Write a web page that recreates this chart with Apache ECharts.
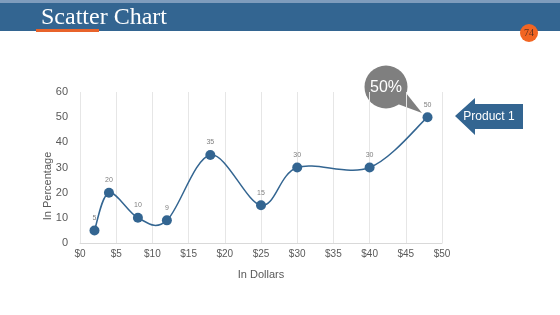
<!DOCTYPE html>
<html>
<head>
<meta charset="utf-8">
<script src="https://cdn.jsdelivr.net/npm/echarts@6/dist/echarts.min.js"></script>
<style>
  html, body { margin: 0; padding: 0; background: #fff; }
  #main { width: 560px; height: 315px; }
</style>
</head>
<body>
<div id="main"></div>
<script>
// values
var dollars = [2, 4, 8, 12, 18, 25, 30, 40, 48];
var percents = [5, 20, 10, 9, 35, 15, 30, 30, 50];
var xTicks = [0, 5, 10, 15, 20, 25, 30, 35, 40, 45, 50];
var yTicks = [0, 10, 20, 30, 40, 50, 60];

var myChart = echarts.init(document.getElementById('main'));

var points = [];
for (var i = 0; i < dollars.length; i++) {
  points.push([dollars[i], percents[i]]);
}

var blue = '#336591';

// Excel-like smoothed segment (cardinal spline), drawn through the axes
function renderSegment(params, api) {
  var i = params.dataIndex;
  if (i >= points.length - 1) return null;
  var p0 = api.coord(points[Math.max(i - 1, 0)]);
  var p1 = api.coord(points[i]);
  var p2 = api.coord(points[i + 1]);
  var p3 = api.coord(points[Math.min(i + 2, points.length - 1)]);
  return {
    type: 'bezierCurve',
    shape: {
      x1: p1[0], y1: p1[1],
      x2: p2[0], y2: p2[1],
      cpx1: p1[0] + (p2[0] - p0[0]) / 6,
      cpy1: p1[1] + (p2[1] - p0[1]) / 6,
      cpx2: p2[0] - (p3[0] - p1[0]) / 6,
      cpy2: p2[1] - (p3[1] - p1[1]) / 6
    },
    style: {fill: null, stroke: blue, lineWidth: 1.5}
  };
}

var option = {
  backgroundColor: '#fff',
  animation: false,
  grid: {
    left: 80,
    right: 118,
    top: 92,
    bottom: 72
  },
  xAxis: {
    type: 'value',
    min: xTicks[0],
    max: xTicks[xTicks.length - 1],
    interval: 5,
    name: 'In Dollars',
    nameLocation: 'middle',
    nameGap: 26,
    nameMoveOverlap: false,
    nameTextStyle: {color: '#595959', fontSize: 11, fontFamily: 'Arial, Liberation Sans'},
    axisLine: {lineStyle: {color: '#d9d9d9'}},
    axisTick: {show: false},
    axisLabel: {
      color: '#595959',
      fontSize: 10,
      fontFamily: 'Arial, Liberation Sans',
      margin: 6,
      formatter: function (v) { return '$' + v; }
    },
    splitLine: {show: true, lineStyle: {color: '#e6e6e6'}}
  },
  yAxis: {
    type: 'value',
    min: yTicks[0],
    max: yTicks[yTicks.length - 1],
    interval: 10,
    name: 'In Percentage',
    nameLocation: 'middle',
    nameGap: 27,
    nameMoveOverlap: false,
    nameTextStyle: {color: '#595959', fontSize: 11, fontFamily: 'Arial, Liberation Sans', padding: [0, 0, 0, -37]},
    axisLine: {show: false},
    axisTick: {show: false},
    axisLabel: {color: '#595959', fontSize: 11, fontFamily: 'Arial, Liberation Sans', margin: 12},
    splitLine: {show: false}
  },
  series: [{
    type: 'custom',
    renderItem: renderSegment,
    data: points,
    silent: true,
    z: 2
  }, {
    type: 'scatter',
    data: points,
    symbol: 'circle',
    symbolSize: 10,
    itemStyle: {color: blue, opacity: 1},
    z: 3,
    label: {
      show: true,
      position: 'top',
      distance: 4,
      color: '#7f7f7f',
      fontSize: 7,
      fontFamily: 'Arial, Liberation Sans',
      formatter: function (p) { return p.value[1]; }
    }
  }],
  graphic: [
    // header band
    {type: 'rect', shape: {x: 0, y: 0, width: 560, height: 31}, style: {fill: blue}},
    {type: 'rect', shape: {x: 0, y: 0, width: 560, height: 3}, style: {fill: '#7f9cbc'}},
    {type: 'rect', shape: {x: 36, y: 29, width: 63, height: 3}, style: {fill: '#e8632b'}},
    {type: 'text', style: {x: 41, y: 18, text: 'Scatter Chart', fill: '#fff', font: '24px "Liberation Serif", serif', verticalAlign: 'middle'}},
    {type: 'circle', shape: {cx: 529, cy: 33, r: 9}, style: {fill: '#f26522'}},
    {type: 'text', style: {x: 529, y: 33, text: '74', fill: '#5a3020', font: '10px "Liberation Serif", serif', align: 'center', verticalAlign: 'middle'}},
    // callout bubble
    {type: 'polygon', shape: {points: [[395, 103], [406, 93], [422, 113]]}, style: {fill: '#7f7f7f'}},
    {type: 'circle', shape: {cx: 386, cy: 87, r: 21.5}, style: {fill: '#7f7f7f'}},
    {type: 'text', style: {x: 386, y: 88, text: '50%', fill: '#fff', font: '16px Arial, "Liberation Sans"', align: 'center', verticalAlign: 'middle'}},
    // arrow
    {type: 'polygon', shape: {points: [[455, 116], [475, 98], [475, 104], [523, 104], [523, 129], [475, 129], [475, 135]]}, style: {fill: blue}},
    {type: 'text', style: {x: 489, y: 117, text: 'Product 1', fill: '#fff', font: '12px Arial, "Liberation Sans"', align: 'center', verticalAlign: 'middle'}}
  ]
};

myChart.setOption(option);
</script>
</body>
</html>
